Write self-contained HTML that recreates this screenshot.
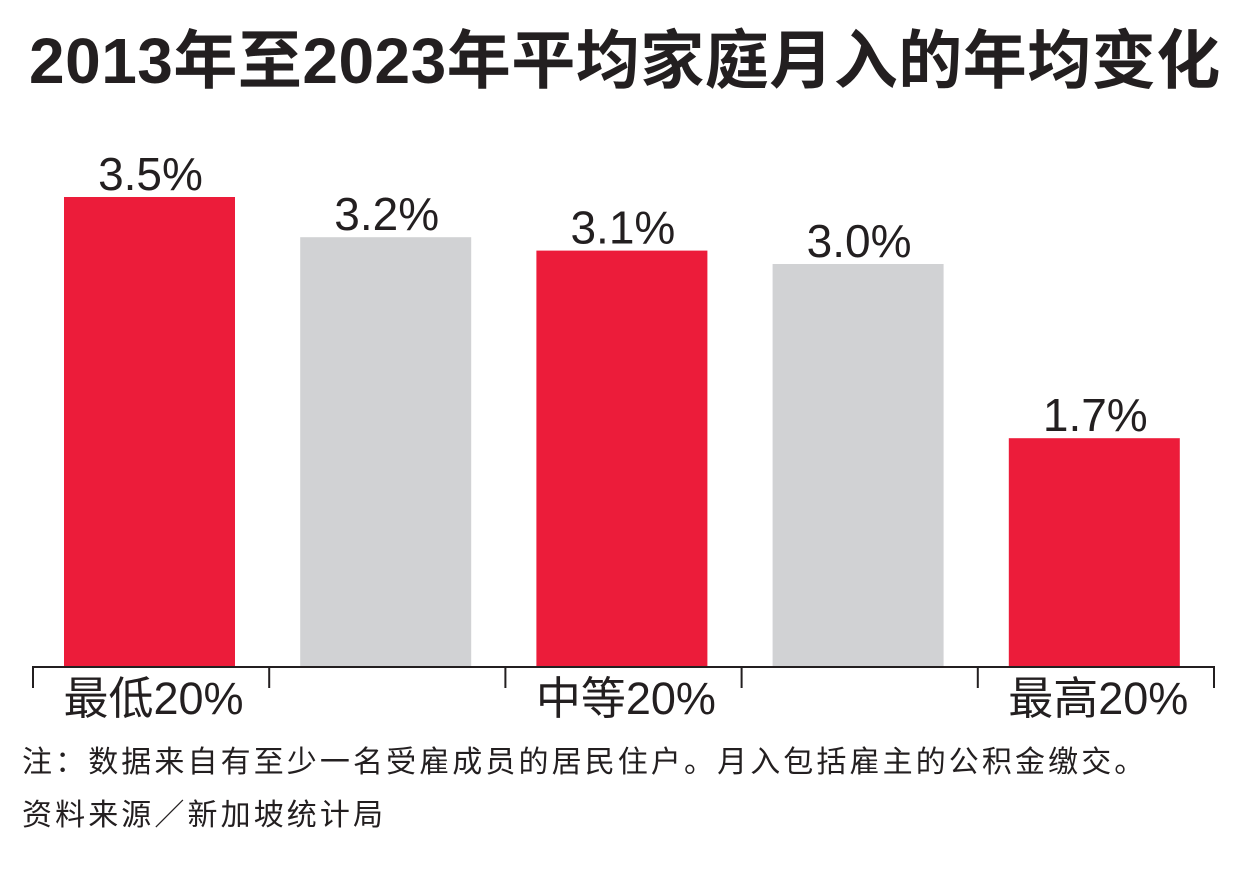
<!DOCTYPE html>
<html><head><meta charset="utf-8"><style>
html,body{margin:0;padding:0;background:#fff;}
body{width:1251px;height:886px;overflow:hidden;position:relative;font-family:"Liberation Sans","Noto Sans CJK SC",sans-serif;}
.t{position:absolute;white-space:nowrap;color:#231f20;}
</style></head><body>
<div class="t" style="left:29px;top:21px;font-size:64px;font-weight:bold;letter-spacing:0.5px;line-height:80px;">2013年至2023年平均家庭月入的年均变化</div>
<svg id="chart" width="1251" height="740" style="position:absolute;left:0;top:0"></svg>
<div class="t" style="left:22px;top:743px;font-size:30px;letter-spacing:3.1px;line-height:40px;">注：数据来自有至少一名受雇成员的居民住户。月入包括雇主的公积金缴交。</div>
<div class="t" style="left:22px;top:796px;font-size:30px;letter-spacing:3.1px;line-height:40px;">资料来源／新加坡统计局</div>
<script>
const categories = ["最低20%", "", "中等20%", "", "最高20%"];
const values = [3.5, 3.2, 3.1, 3.0, 1.7];
const valueLabels = ["3.5%", "3.2%", "3.1%", "3.0%", "1.7%"];
const colors = ["#ec1c3a", "#d1d2d4", "#ec1c3a", "#d1d2d4", "#ec1c3a"];
const NS = "http://www.w3.org/2000/svg";
const svg = document.getElementById("chart");
const baseY = 666, pxPerUnit = 134, x0 = 33, slot = 236.2, barW = 171, barOff = 31;
function yScale(v){ return baseY - v * pxPerUnit; }
function xScale(i){ return x0 + i * slot; }
values.forEach((v, i) => {
  const r = document.createElementNS(NS, "rect");
  
  
  r.setAttribute("x", xScale(i) + barOff);
  r.setAttribute("y", yScale(v));
  r.setAttribute("width", barW);
  r.setAttribute("height", baseY - yScale(v));
  r.setAttribute("fill", colors[i]);
  svg.appendChild(r);
  const t = document.createElementNS(NS, "text");
  
  
  t.setAttribute("x", xScale(i) + barOff + barW / 2 + 1);
  t.setAttribute("y", yScale(v) - 7);
  t.setAttribute("text-anchor", "middle");
  t.setAttribute("font-size", "46");
  t.setAttribute("fill", "#231f20");
  t.setAttribute("font-family", "Liberation Sans, sans-serif");
  t.textContent = valueLabels[i];
  svg.appendChild(t);
  if (categories[i]) {
    const c = document.createElementNS(NS, "text");
    
    
    c.setAttribute("x", xScale(i) + barOff + barW / 2 + 4);
    c.setAttribute("y", 714);
    c.setAttribute("text-anchor", "middle");
    c.setAttribute("font-size", "45");
    c.setAttribute("fill", "#231f20");
    c.setAttribute("font-family", "Liberation Sans, Noto Sans CJK SC, sans-serif");
    c.textContent = categories[i];
    svg.appendChild(c);
  }
});
const ax = document.createElementNS(NS, "line");


ax.setAttribute("x1", x0); ax.setAttribute("x2", xScale(categories.length));
ax.setAttribute("y1", baseY + 1); ax.setAttribute("y2", baseY + 1);
ax.setAttribute("stroke", "#231f20"); ax.setAttribute("stroke-width", "2");
svg.appendChild(ax);
for (let i = 0; i <= categories.length; i++) {
  const tk = document.createElementNS(NS, "line");
  
  
  tk.setAttribute("x1", xScale(i)); tk.setAttribute("x2", xScale(i));
  tk.setAttribute("y1", baseY); tk.setAttribute("y2", 688);
  tk.setAttribute("stroke", "#231f20"); tk.setAttribute("stroke-width", "2");
  svg.appendChild(tk);
}
</script>
</body></html>
